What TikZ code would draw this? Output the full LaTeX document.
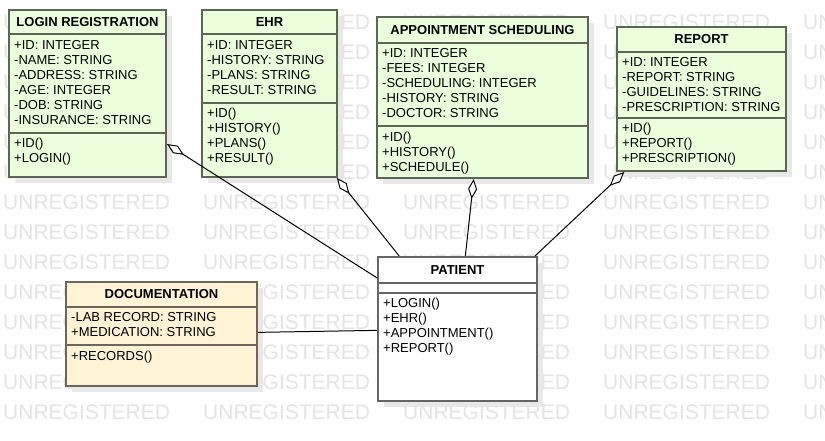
\documentclass[tikz,border=0pt]{standalone}
\usepackage{fontspec}
\setmainfont{Liberation Sans}
\usepackage{tikz}
\usetikzlibrary{arrows.meta}
\usetikzlibrary{shadows}

\definecolor{classfill}{RGB}{235,255,220}
\definecolor{classline}{RGB}{92,102,86}
\definecolor{docfill}{RGB}{255,243,214}
\definecolor{docline}{RGB}{108,102,92}
\definecolor{patline}{RGB}{102,102,102}
\definecolor{wmgray}{RGB}{228,228,228}

\begin{document}
\begin{tikzpicture}[
            x=1pt, y=-1pt,
            class-box/.style={rectangle,draw=classline,fill=classfill,line width=2pt,
                drop shadow={shadow xshift=6pt,shadow yshift=-6pt,fill=black!9,opacity=1}},
            doc-box/.style={class-box,draw=docline,fill=docfill},
            pat-box/.style={class-box,draw=patline,fill=white},
            head-text/.style={inner sep=0,font=\bfseries\fontsize{13}{15}\selectfont},
            body-text/.style={inner sep=0,anchor=north west,align=left,font=\fontsize{13}{15}\selectfont},
            wm-text/.style={inner sep=0,anchor=west,text=wmgray,font=\fontsize{21}{21}\selectfont},
            aggr/.style={line width=1pt,-{Diamond[open,fill=white,length=20pt,width=9pt]}},
            assoc/.style={line width=1pt},
        ]
            \useasboundingbox (0,0) rectangle (825,441);
            \fill[white] (0,0) rectangle (825,441);

            % watermark
            \foreach \r in {0,...,13}
                \foreach \c in {0,...,4}
                    \node[wm-text] (wm-\r-\c) at (3+200*\c, 22+30*\r) {UNREGISTERED};

            % login registration
            \node[class-box,minimum width=157pt,minimum height=167pt] (login) at (87.5,93.5) {};
            \node[head-text] (login-name) at (87.5,22) {LOGIN REGISTRATION};
            \node[body-text] (login-attr) at (14,40.3) {+ID: INTEGER\\-NAME: STRING\\-ADDRESS: STRING\\-AGE: INTEGER\\-DOB: STRING\\-INSURANCE: STRING};
            \node[body-text] (login-op) at (14,138.3) {+ID()\\+LOGIN()};
            \draw[classline,line width=2pt] (9,34) -- (166,34);
            \draw[classline,line width=2pt] (9,133) -- (166,133);

            % ehr
            \node[class-box,minimum width=135pt,minimum height=167pt] (ehr) at (269.5,93.5) {};
            \node[head-text] (ehr-name) at (269.5,22) {EHR};
            \node[body-text] (ehr-attr) at (207,40.3) {+ID: INTEGER\\-HISTORY: STRING\\-PLANS: STRING\\-RESULT: STRING};
            \node[body-text] (ehr-op) at (207,108.3) {+ID()\\+HISTORY()\\+PLANS()\\+RESULT()};
            \draw[classline,line width=2pt] (202,34) -- (337,34);
            \draw[classline,line width=2pt] (202,103) -- (337,103);

            % appointment scheduling
            \node[class-box,minimum width=211pt,minimum height=161pt] (appt) at (482.5,97.5) {};
            \node[head-text] (appt-name) at (482.5,30) {APPOINTMENT SCHEDULING};
            \node[body-text] (appt-attr) at (382,48.3) {+ID: INTEGER\\-FEES: INTEGER\\-SCHEDULING: INTEGER\\-HISTORY: STRING\\-DOCTOR: STRING};
            \node[body-text] (appt-op) at (382,132.3) {+ID()\\+HISTORY()\\+SCHEDULE()};
            \draw[classline,line width=2pt] (377,43) -- (588,43);
            \draw[classline,line width=2pt] (377,126) -- (588,126);

            % report
            \node[class-box,minimum width=169pt,minimum height=144pt] (report) at (701.5,99) {};
            \node[head-text] (report-name) at (701.5,39) {REPORT};
            \node[body-text] (report-attr) at (622,57.3) {+ID: INTEGER\\-REPORT: STRING\\-GUIDELINES: STRING\\-PRESCRIPTION: STRING};
            \node[body-text] (report-op) at (622,123.3) {+ID()\\+REPORT()\\+PRESCRIPTION()};
            \draw[classline,line width=2pt] (617,52) -- (786,52);
            \draw[classline,line width=2pt] (617,118) -- (786,118);

            % patient
            \node[pat-box,minimum width=159pt,minimum height=144pt] (patient) at (457.5,329) {};
            \node[head-text] (patient-name) at (457.5,270) {PATIENT};
            \node[body-text] (patient-op) at (383,298.3) {+LOGIN()\\+EHR()\\+APPOINTMENT()\\+REPORT()};
            \draw[patline,line width=2pt] (378,283) -- (537,283);
            \draw[patline,line width=2pt] (378,293) -- (537,293);

            % documentation
            \node[doc-box,minimum width=191pt,minimum height=104pt] (doc) at (161.5,334) {};
            \node[head-text] (doc-name) at (161.5,294.5) {DOCUMENTATION};
            \node[body-text] (doc-attr) at (71,312.3) {-LAB RECORD: STRING\\+MEDICATION: STRING};
            \node[body-text] (doc-op) at (71,351.3) {+RECORDS()};
            \draw[docline,line width=2pt] (66,307) -- (257,307);
            \draw[docline,line width=2pt] (66,345) -- (257,345);

            \draw[aggr] (patient) -- (login);
            \draw[aggr] (patient) -- (ehr);
            \draw[aggr] (patient) -- (appt);
            \draw[aggr] (patient) -- (report);
            \draw[assoc] (doc) -- (patient);
        \end{tikzpicture}
\end{document}
